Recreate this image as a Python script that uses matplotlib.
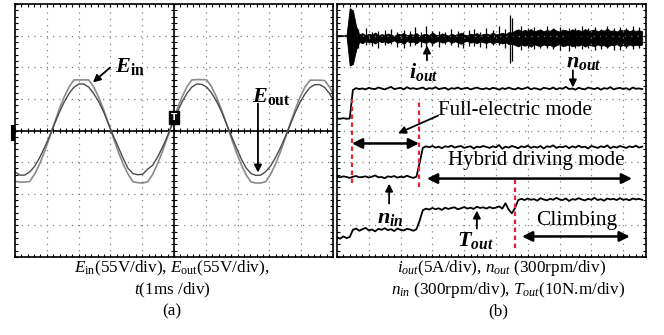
import numpy as np
import matplotlib
matplotlib.use("Agg")
import matplotlib.pyplot as plt
from matplotlib.ticker import MultipleLocator

plt.rcParams['font.family'] = ['Liberation Serif', 'DejaVu Serif']
plt.rcParams['mathtext.fontset'] = 'custom'
plt.rcParams['mathtext.rm'] = 'Liberation Serif'
plt.rcParams['mathtext.it'] = 'Liberation Serif:italic'
plt.rcParams['mathtext.bf'] = 'Liberation Serif:bold'
plt.rcParams['mathtext.bfit'] = 'Liberation Serif:italic:bold'

# ---- panel (a): scope traces, one sample every 0.1546 div ----
step_a = 0.1546
e_in = [-1.61, -1.63, -1.63, -1.61, -1.38, -1.06, -0.67, -0.23, 0.23, 0.67, 1.06, 1.38,
        1.60, 1.60, 1.60, 1.60, 1.38, 1.06, 0.67, 0.23, -0.23, -0.67, -1.06, -1.38,
        -1.62, -1.65, -1.66, -1.62, -1.39, -1.05, -0.66, -0.22, 0.24, 0.68, 1.07, 1.39,
        1.60, 1.61, 1.61, 1.60, 1.38, 1.05, 0.66, 0.22, -0.24, -0.68, -1.07, -1.40,
        -1.63, -1.66, -1.66, -1.62, -1.38, -1.06, -0.67, -0.23, 0.23, 0.67, 1.06, 1.38,
        1.59, 1.59, 1.59, 1.58, 1.37, 1.05]
e_out = [-1.31, -1.41, -1.41, -1.31, -1.13, -0.86, -0.54, -0.19, 0.19, 0.57, 0.90, 1.17,
         1.37, 1.47, 1.47, 1.37, 1.17, 0.92, 0.60, 0.21, -0.17, -0.52, -0.88, -1.20,
         -1.36, -1.40, -1.38, -1.22, -1.10, -0.84, -0.53, -0.18, 0.20, 0.58, 0.91, 1.18,
         1.38, 1.47, 1.46, 1.37, 1.18, 0.92, 0.60, 0.21, -0.17, -0.53, -0.89, -1.18,
         -1.36, -1.42, -1.41, -1.30, -1.12, -0.85, -0.54, -0.19, 0.19, 0.57, 0.90, 1.16,
         1.36, 1.45, 1.45, 1.36, 1.16, 0.90]

# ---- panel (b): one sample every 0.1 div ----
step_b = 0.1
n_out = ([0.38, 0.37, 0.39, 0.37, 0.38, 1.28] +
         [1.34, 1.31, 1.33, 1.30, 1.35, 1.32, 1.31, 1.36, 1.33, 1.30,
          1.34, 1.38, 1.31, 1.33, 1.35, 1.30, 1.37, 1.32, 1.34, 1.31,
          1.33, 1.36, 1.30, 1.34, 1.32, 1.37, 1.31, 1.33, 1.35, 1.29,
          1.34, 1.32, 1.36, 1.31, 1.33, 1.35, 1.30, 1.33, 1.36, 1.32,
          1.31, 1.34, 1.30, 1.35, 1.33, 1.29, 1.34, 1.31, 1.36, 1.32,
          1.30, 1.35, 1.31, 1.33, 1.37, 1.30, 1.34, 1.32, 1.29, 1.35,
          1.33, 1.31, 1.36, 1.30, 1.34, 1.32, 1.38, 1.31, 1.33, 1.29,
          1.35, 1.32, 1.30, 1.36, 1.33, 1.31, 1.35, 1.29, 1.34, 1.32,
          1.37, 1.30, 1.33, 1.35, 1.31, 1.34, 1.29, 1.36, 1.32, 1.33, 1.31])
n_in = ([-1.46, -1.48, -1.45, -1.47, -1.50, -1.46, -1.44, -1.48, -1.47, -1.45,
         -1.49, -1.46, -1.42, -1.48, -1.47, -1.51, -1.45, -1.47, -1.44, -1.49,
         -1.46, -1.48, -1.43, -1.47, -1.50, -1.46, -1.02] +
        [-0.55, -0.50, -0.53, -0.49, -0.54, -0.51, -0.56, -0.50, -0.52, -0.48,
         -0.54, -0.51, -0.49, -0.55, -0.52, -0.50, -0.57, -0.51, -0.53, -0.49,
         -0.52, -0.55, -0.50, -0.53, -0.46, -0.58, -0.51, -0.54, -0.49, -0.52,
         -0.56, -0.50, -0.53, -0.48, -0.55, -0.51, -0.54, -0.49, -0.57, -0.50,
         -0.52, -0.47, -0.55, -0.51, -0.53, -0.49, -0.56, -0.50, -0.54, -0.48,
         -0.53, -0.51, -0.57, -0.49, -0.52, -0.55, -0.50, -0.53, -0.47, -0.56,
         -0.51, -0.54, -0.49, -0.52, -0.55, -0.50, -0.53, -0.48, -0.54, -0.51])
t_out = ([-3.38, -3.42, -3.35, -3.40, -3.37, -3.14] +
         [-3.10, -3.17, -3.12, -3.08, -3.16, -3.13, -3.19, -3.11, -3.14, -3.09,
          -3.15, -3.12, -3.18, -3.10, -3.14, -3.16, -3.11, -3.13, -3.17, -3.12, -2.85] +
         [-2.52, -2.47, -2.50, -2.45, -2.49, -2.46, -2.51, -2.44, -2.48, -2.45,
          -2.43, -2.49, -2.46, -2.42, -2.47, -2.44, -2.48, -2.41, -2.45, -2.43,
          -2.47, -2.42, -2.46, -2.44, -2.40, -2.47, -2.30, -2.50, -2.62, -2.45, -2.20] +
         [-2.16, -2.20, -2.15, -2.19, -2.17, -2.22, -2.14, -2.18, -2.21, -2.16,
          -2.19, -2.13, -2.18, -2.20, -2.15, -2.23, -2.17, -2.19, -2.14, -2.18,
          -2.21, -2.16, -2.19, -2.13, -2.20, -2.17, -2.22, -2.15, -2.18, -2.16,
          -2.20, -2.14, -2.19, -2.17, -2.21, -2.15, -2.18, -2.16, -2.19])
i_out_hi = ([3.02, 3.02, 3.01, 3.02, 3.86, 3.80, 3.30] +
            [3.04, 3.08, 3.01, 3.06, 3.03, 3.10, 3.00, 3.05, 3.02, 3.07,
             3.03, 2.99, 3.06, 3.04, 3.09, 3.01, 3.05, 3.03, 3.08, 3.00,
             3.04, 3.06, 3.02, 3.10, 3.03, 3.01, 3.07, 3.04, 3.00, 3.06,
             3.02, 3.05, 3.09, 3.03, 3.01, 3.06, 3.04, 3.08, 3.02, 3.05,
             3.07, 3.03, 3.10, 3.04, 3.06, 3.09, 3.05, 3.11, 3.10] +
            [3.16, 3.20, 3.14, 3.18, 3.15, 3.21, 3.13, 3.17, 3.19, 3.14,
             3.18, 3.15, 3.22, 3.16, 3.13, 3.19, 3.17, 3.14, 3.20, 3.16,
             3.18, 3.13, 3.21, 3.15, 3.17, 3.19, 3.14, 3.18, 3.16, 3.22,
             3.15, 3.17, 3.13, 3.19, 3.16, 3.20, 3.14, 3.18, 3.15, 3.17, 3.14])
i_out_lo = ([2.98, 2.98, 2.99, 2.98, 2.06, 2.10, 2.55] +
            [2.80, 2.76, 2.83, 2.78, 2.81, 2.75, 2.84, 2.79, 2.82, 2.77,
             2.81, 2.85, 2.78, 2.80, 2.74, 2.83, 2.79, 2.81, 2.76, 2.84,
             2.80, 2.77, 2.82, 2.75, 2.81, 2.83, 2.78, 2.80, 2.84, 2.77,
             2.82, 2.79, 2.74, 2.81, 2.83, 2.78, 2.80, 2.76, 2.82, 2.79,
             2.77, 2.81, 2.74, 2.80, 2.78, 2.75, 2.79, 2.73, 2.75] +
            [2.70, 2.66, 2.72, 2.68, 2.71, 2.65, 2.73, 2.69, 2.67, 2.72,
             2.68, 2.71, 2.64, 2.70, 2.73, 2.67, 2.69, 2.72, 2.66, 2.70,
             2.68, 2.73, 2.65, 2.71, 2.69, 2.67, 2.72, 2.68, 2.70, 2.64,
             2.71, 2.69, 2.73, 2.67, 2.70, 2.66, 2.72, 2.68, 2.71, 2.69, 2.72])
# i_out spikes (bursts and hairs)
spike_x = [0.40, 0.43, 0.46, 0.49, 0.52, 0.56, 0.60, 0.65, 5.45, 5.49,
           0.9, 1.1, 1.3, 1.5, 1.7, 1.9, 2.1, 2.3, 2.45, 2.65, 2.8, 3.0, 3.2, 3.4,
           3.6, 3.8, 3.95, 4.15, 4.3, 4.5, 4.7, 4.9, 5.1, 5.3,
           5.8, 6.0, 6.2, 6.4, 6.6, 6.8, 7.0, 7.3, 7.5, 7.7, 7.9, 8.1, 8.3, 8.5,
           8.7, 8.9, 9.1, 9.3, 9.5]
spike_hi = [3.86, 3.84, 3.75, 3.60, 3.45, 3.35, 3.25, 3.20, 3.64, 3.55,
            3.25, 3.12, 3.15, 3.18, 3.22, 3.10, 3.18, 3.14, 3.28, 3.12, 3.30, 3.16,
            3.15, 3.12, 3.20, 3.14, 3.12, 3.18, 3.22, 3.13, 3.25, 3.17, 3.30, 3.20,
            3.30, 3.24, 3.27, 3.22, 3.32, 3.25, 3.28, 3.25, 3.23, 3.30, 3.24, 3.26,
            3.22, 3.32, 3.25, 3.28, 3.24, 3.30, 3.26]
spike_lo = [2.06, 2.08, 2.12, 2.25, 2.40, 2.50, 2.60, 2.62, 2.15, 2.20,
            2.70, 2.66, 2.60, 2.70, 2.75, 2.64, 2.62, 2.68, 2.70, 2.65, 2.58, 2.67,
            2.65, 2.72, 2.70, 2.63, 2.60, 2.68, 2.68, 2.64, 2.62, 2.69, 2.70, 2.60,
            2.55, 2.60, 2.58, 2.62, 2.60, 2.57, 2.55, 2.52, 2.61, 2.58, 2.62, 2.55,
            2.59, 2.60, 2.56, 2.53, 2.60, 2.57, 2.61]

mode_x = [0.47, 2.58, 5.60]
mode_lo = [-1.65, -1.80, -3.70]
mode_hi = [1.01, 1.01, -1.58]

fig = plt.figure(figsize=(6.64, 3.35), dpi=100)
axL = fig.add_axes([15/664, 78/335, 318/664, 253/335])
axR = fig.add_axes([337/664, 78/335, 309/664, 253/335])


def scope_frame(ax, xmax):
    ax.set_xlim(0, xmax)
    ax.set_ylim(-4, 4)
    ax.xaxis.set_major_locator(MultipleLocator(1))
    ax.yaxis.set_major_locator(MultipleLocator(1))
    ax.xaxis.set_minor_locator(MultipleLocator(0.2))
    ax.yaxis.set_minor_locator(MultipleLocator(0.2))
    ax.tick_params(which='both', direction='in', length=2.5, width=0.8,
                   top=True, right=True, labelbottom=False, labelleft=False)
    ax.grid(True, which='major', color='#808080', lw=0.9, linestyle=(0, (1, 4)))
    for sp in ax.spines.values():
        sp.set_linewidth(1.2)


scope_frame(axL, 10)
scope_frame(axR, 9.72)

# centre cross with graticule ticks on panel (a)
axL.axhline(0, color='k', lw=1.2)
axL.axvline(5, color='k', lw=1.2)
axL.vlines(np.arange(0, 10.01, 0.2), -0.09, 0.09, colors='k', lw=0.8)
axL.hlines(np.arange(-4, 4.01, 0.2), 4.91, 5.09, colors='k', lw=0.8)

ta = np.arange(len(e_in)) * step_a
axL.plot(ta, e_in, color='#8a8a8a', lw=1.2)
axL.plot(ta, e_out, color='#4a4a4a', lw=1.0)

axL.text(5.0, 0.41, 'T', ha='center', va='center', color='white', fontsize=6.5,
         fontweight='bold', family='DejaVu Sans',
         bbox=dict(boxstyle='square,pad=0.2', fc='black', ec='black'))
axL.plot([-0.06, -0.06], [0.16, -0.32], color='k', lw=3, clip_on=False,
         solid_capstyle='butt')

arr = dict(arrowstyle='-|>', color='k', lw=1.3, mutation_scale=11, shrinkA=0, shrinkB=0)
axL.annotate('', xy=(2.45, 1.52), xytext=(2.99, 1.99), arrowprops=arr)
axL.text(3.6, 2.03, r'$\mathbfit{E}_{\mathbf{in}}$', fontsize=16, ha='center', va='center')
axL.annotate('', xy=(7.64, -1.33), xytext=(7.64, 0.85), arrowprops=arr)
axL.text(8.05, 1.08, r'$\mathbfit{E}_{\mathbf{out}}$', fontsize=16, ha='center', va='center')

# panel (b)
tb = np.arange(len(n_out)) * step_b
axR.fill_between(tb, i_out_lo, i_out_hi, color='k', lw=0.6)
axR.vlines(spike_x, spike_lo, spike_hi, colors='k', lw=0.9)
axR.plot(tb, n_out, color='k', lw=1.3)
axR.plot(tb, n_in, color='k', lw=1.3)
axR.plot(tb, t_out, color='k', lw=1.3)
axR.vlines(mode_x, mode_lo, mode_hi, colors='#e3262c', lw=1.6, linestyles=(0, (2, 1.6)))

darr = dict(arrowstyle='<|-|>', color='k', lw=1.8, mutation_scale=15, shrinkA=0, shrinkB=0)
axR.annotate('', xy=(0.47, -0.41), xytext=(2.58, -0.41), arrowprops=darr)
axR.annotate('', xy=(2.83, -1.52), xytext=(9.28, -1.52), arrowprops=darr)
axR.annotate('', xy=(5.82, -3.35), xytext=(9.21, -3.35), arrowprops=darr)

axR.annotate('', xy=(1.92, -0.09), xytext=(3.18, 0.47), arrowprops=arr)
axR.text(3.18, 0.63, 'Full-electric mode', fontsize=15, ha='left', va='center')
axR.text(6.26, -0.95, 'Hybrid driving mode', fontsize=15, ha='center', va='center')
axR.text(7.55, -2.85, 'Climbing', fontsize=15.5, ha='center', va='center')

axR.annotate('', xy=(2.83, 2.69), xytext=(2.83, 2.22), arrowprops=arr)
axR.text(2.74, 1.84, r'$\mathbfit{i}_{\mathbfit{out}}$', fontsize=16, ha='center', va='center')
axR.annotate('', xy=(7.42, 1.36), xytext=(7.42, 1.9), arrowprops=arr)
axR.text(7.77, 2.15, r'$\mathbfit{n}_{\mathbfit{out}}$', fontsize=16, ha='center', va='center')
axR.annotate('', xy=(1.64, -1.68), xytext=(1.64, -2.31), arrowprops=arr)
axR.text(1.67, -2.78, r'$\mathbfit{n}_{\mathbfit{in}}$', fontsize=16, ha='center', va='center')
axR.annotate('', xy=(4.4, -2.53), xytext=(4.4, -3.1), arrowprops=arr)
axR.text(4.34, -3.48, r'$\mathbfit{T}_{\mathbfit{out}}$', fontsize=16, ha='center', va='center')

# captions
cap = dict(fontsize=12.3, ha='center', va='center')
fig.text(0.259, 0.200, r'$E_{\rm in}$(55V/div), $E_{\rm out}$(55V/div),', **cap)
fig.text(0.259, 0.134, r'$t($1ms /div)', **cap)
fig.text(0.259, 0.069, '(a)', **cap)
fig.text(0.756, 0.200, r'$i_{out}$(5A/div), $n_{out}$ (300rpm/div)', **cap)
fig.text(0.765, 0.134, r'$n_{in}$ (300rpm/div), $T_{out}$(10N.m/div)', **cap)
fig.text(0.750, 0.069, '(b)', **cap)

fig.savefig('out.png', dpi=100)
